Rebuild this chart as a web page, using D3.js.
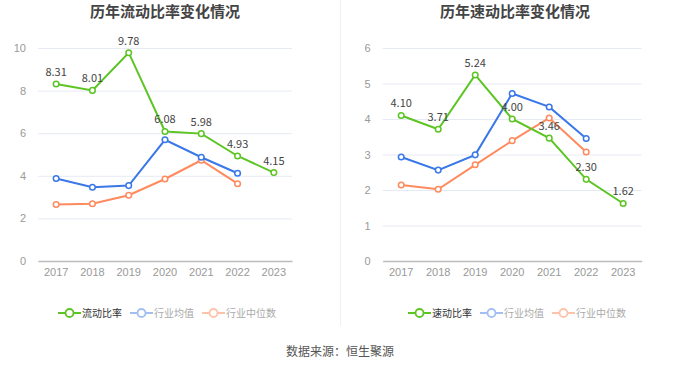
<!DOCTYPE html>
<html>
<head>
<meta charset="utf-8">
<script src="https://cdn.jsdelivr.net/npm/d3@7"></script>
<style>
  body { margin:0; background:#fff; }
  svg { display:block; font-family:"Noto Sans CJK SC","Noto Sans",sans-serif; }
</style>
</head>
<body>
<div id="chart"></div>
<script>
// datos
var years = ['2017','2018','2019','2020','2021','2022','2023'];

var liudong = [8.31, 8.01, 9.78, 6.08, 5.98, 4.93, 4.15];
var liudongMean = [3.87, 3.46, 3.54, 5.69, 4.87, 4.12];
var liudongMedian = [2.65, 2.69, 3.09, 3.85, 4.73, 3.63];

var sudong = [4.10, 3.71, 5.24, 4.00, 3.46, 2.30, 1.62];
var sudongMean = [2.93, 2.56, 2.99, 4.72, 4.34, 3.45];
var sudongMedian = [2.14, 2.02, 2.71, 3.39, 4.03, 3.07];

var ticksLeft = [0, 2, 4, 6, 8, 10];
var ticksRight = [0, 1, 2, 3, 4, 5, 6];

var colors = ['#5cc524', '#3a77e8', '#ff8a5e'];
var colorsLight = ['#5cc524', '#a3bff2', '#ffc3ab'];

var width = 680, height = 367;

var svg = d3.select('#chart').append('svg')
    .attr('width', width)
    .attr('height', height);

// separador vertical
svg.append('line')
    .attr('x1', 340.5).attr('x2', 340.5)
    .attr('y1', 0).attr('y2', 326)
    .attr('stroke', '#f0f0f0');

function panel(cfg) {
  var g = svg.append('g');

  var eX = d3.scaleBand().domain(years).range([cfg.x0, cfg.x1]);
  var eY = d3.scaleLinear().domain([0, cfg.max]).range([261, 48]);

  // titulo
  g.append('text')
    .attr('x', cfg.cx).attr('y', 17)
    .attr('text-anchor', 'middle')
    .attr('font-size', 15).attr('font-weight', 'bold')
    .attr('fill', '#444')
    .text(cfg.title);

  // rejilla
  var yAxis = d3.axisLeft(eY).tickValues(cfg.ticks).tickFormat(d3.format('d'))
    .tickSize(-(cfg.x1 - cfg.x0)).tickPadding(12);
  var ga = g.append('g')
    .attr('transform', 'translate(' + cfg.x0 + ',0)')
    .call(yAxis);
  ga.select('.domain').remove();
  ga.selectAll('.tick line').attr('stroke', '#e6eaf5');
  ga.selectAll('.tick text').attr('fill', '#999').attr('font-size', 11);

  // eje X
  var xAxis = d3.axisBottom(eX).tickSize(0).tickPadding(7);
  var gx = g.append('g')
    .attr('transform', 'translate(0,261)')
    .call(xAxis);
  gx.select('.domain').attr('stroke', '#bbb').attr('stroke-width', 1.5);
  gx.selectAll('.tick text').attr('fill', '#999').attr('font-size', 11);

  var series = [cfg.main, cfg.mean, cfg.median];
  var line = d3.line()
    .x(function(d, i) { return eX(years[i]) + eX.bandwidth() / 2; })
    .y(function(d) { return eY(d); });

  // dibujamos de atras hacia delante
  [2, 1, 0].forEach(function(k) {
    var vals = series[k];
    g.append('path')
      .datum(vals)
      .attr('d', line)
      .attr('fill', 'none')
      .attr('stroke', colors[k])
      .attr('stroke-width', 2);
    g.selectAll('.pt' + k)
      .data(vals)
      .enter().append('circle')
      .attr('cx', function(d, i) { return eX(years[i]) + eX.bandwidth() / 2; })
      .attr('cy', function(d) { return eY(d); })
      .attr('r', 2.8)
      .attr('fill', '#fff')
      .attr('stroke', colors[k])
      .attr('stroke-width', 1.5);
  });

  // etiquetas
  g.selectAll('.lbl')
    .data(cfg.main)
    .enter().append('text')
    .attr('x', function(d, i) { return eX(years[i]) + eX.bandwidth() / 2; })
    .attr('y', function(d) { return eY(d) - 8; })
    .attr('text-anchor', 'middle')
    .attr('font-size', 11)
    .attr('fill', '#444')
    .text(function(d) { return d.toFixed(2); });

  // leyenda
  var lx = cfg.legendX;
  cfg.names.forEach(function(name, k) {
    var lg = g.append('g').attr('transform', 'translate(' + lx + ',313)');
    lg.append('line').attr('x1', 0).attr('x2', 23).attr('y1', 0).attr('y2', 0)
      .attr('stroke', colorsLight[k]).attr('stroke-width', 2);
    lg.append('circle').attr('cx', 11.5).attr('cy', 0).attr('r', 4)
      .attr('fill', '#fff').attr('stroke', colorsLight[k]).attr('stroke-width', 1.8);
    var t = lg.append('text').attr('x', 24).attr('y', 3.5)
      .attr('font-size', 10)
      .attr('fill', k == 0 ? '#333' : '#aaa')
      .text(name);
    lx += 24 + t.node().getComputedTextLength() + 8;
  });
}

panel({
  title: '历年流动比率变化情况', cx: 165,
  x0: 38, x1: 292, max: 10, ticks: ticksLeft,
  main: liudong, mean: liudongMean, median: liudongMedian,
  names: ['流动比率', '行业均值', '行业中位数'], legendX: 58
});

panel({
  title: '历年速动比率变化情况', cx: 515,
  x0: 382.7, x1: 641.7, max: 6, ticks: ticksRight,
  main: sudong, mean: sudongMean, median: sudongMedian,
  names: ['速动比率', '行业均值', '行业中位数'], legendX: 408
});

// fuente
svg.append('text')
  .attr('x', 340).attr('y', 356)
  .attr('text-anchor', 'middle')
  .attr('font-size', 12)
  .attr('fill', '#555')
  .text('数据来源：恒生聚源');
</script>
</body>
</html>
